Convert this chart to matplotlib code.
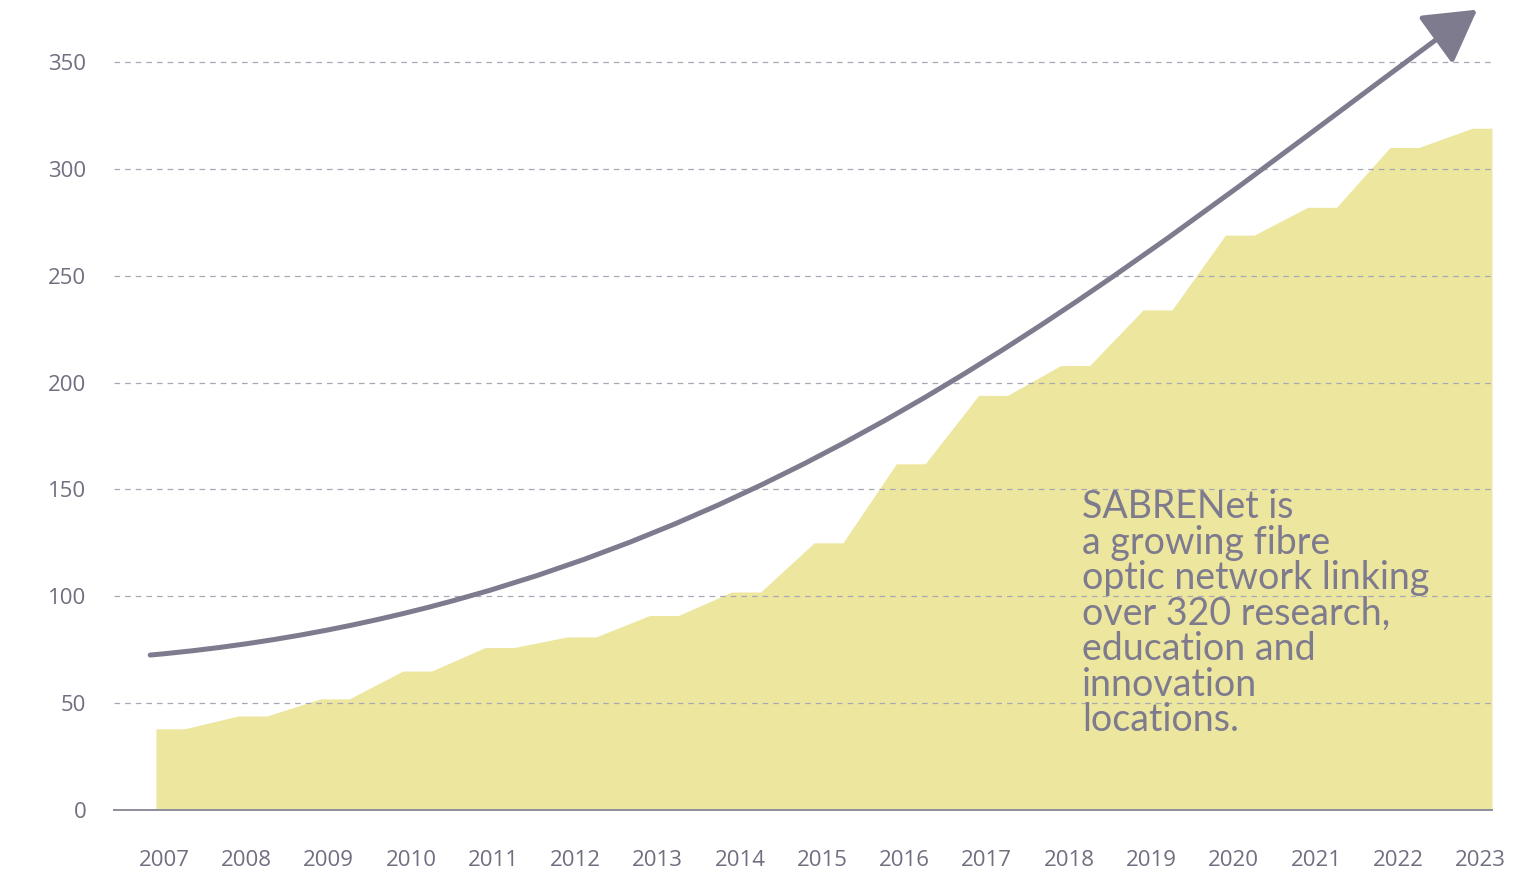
import matplotlib.pyplot as plt
from matplotlib.patches import FancyArrowPatch
from matplotlib.path import Path

years = [2007, 2008, 2009, 2010, 2011, 2012, 2013, 2014, 2015,
         2016, 2017, 2018, 2019, 2020, 2021, 2022, 2023]
locations = [38, 44, 52, 65, 76, 81, 91, 102, 125,
             162, 194, 208, 234, 269, 282, 310, 319]
y_ticks = [0, 50, 100, 150, 200, 250, 300, 350]

# growth arrow: cubic bezier (x in year index, y in chart units)
arrow_x = [-0.07, 7.22, 11.77, 16.06]
arrow_y = [72.5, 97.8, 254.6, 374.5]

note = ("SABRENet is\na growing fibre\noptic network linking\n"
        "over 320 research,\neducation and\ninnovation\nlocations.")

fill_col = '#ede69e'
ink = '#7e7b8f'
label_col = '#716e80'

# each year stays flat for a bit, then ramps up to the next one
xs, ys = [], []
for i, v in enumerate(locations):
    end = i + 0.35 if i < len(locations) - 1 else i + 0.24
    xs += [i, end]
    ys += [v, v]

fig = plt.figure(figsize=(15.15, 8.73), dpi=100)
ax = fig.add_axes([114 / 1515, 63 / 873, (1492 - 114) / 1515, (810 - 62) / 873])

ax.fill_between(xs, ys, 0, color=fill_col, lw=0, zorder=1)

ax.set_xlim(-0.51, 16.24)
ax.set_ylim(0, 350)

for v in y_ticks[1:]:
    ax.axhline(v, color='#a9a7b4', lw=0.9, ls=(0, (4.5, 4)), zorder=2, clip_on=False)

for s in ['left', 'right', 'top']:
    ax.spines[s].set_visible(False)
ax.spines['bottom'].set_color('#8f8c9c')
ax.spines['bottom'].set_linewidth(1.4)

ax.set_yticks(y_ticks)
ax.set_yticklabels([str(v) for v in y_ticks])
ax.set_xticks([i + 0.1 for i in range(len(years))])
ax.set_xticklabels([str(y) for y in years])
ax.tick_params(length=0, labelsize=16, labelcolor=label_col)
ax.tick_params(axis='y', pad=20)
ax.tick_params(axis='x', pad=29)
for t in ax.get_xticklabels() + ax.get_yticklabels():
    t.set_fontfamily('Open Sans')

path = Path(list(zip(arrow_x, arrow_y)),
            [Path.MOVETO, Path.CURVE4, Path.CURVE4, Path.CURVE4])
arrow = FancyArrowPatch(path=path, arrowstyle='-|>,head_length=0.4,head_width=0.23',
                        mutation_scale=80, color=ink, lw=3.6,
                        transform=ax.transData, clip_on=False, zorder=4)
ax.add_patch(arrow)

ax.text(11.26, 150, note, ha='left', va='top', fontsize=27,
        family='Lato', color=ink, linespacing=0.98, zorder=5)

fig.savefig('out.png', dpi=100)
